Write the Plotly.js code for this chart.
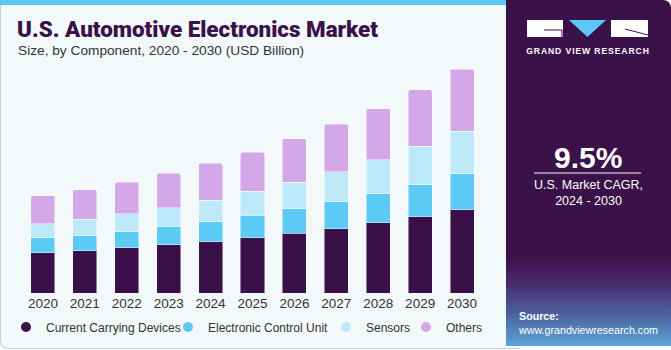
<!DOCTYPE html>
<html>
<head>
<meta charset="utf-8">
<script src="https://cdn.plot.ly/plotly-3.0.1.min.js"></script>
<style>
  html, body { margin: 0; padding: 0; background: #ffffff; }
  #wrap { position: relative; width: 671px; height: 350px; overflow: hidden; }
  #card { position: absolute; left: 0; top: 0; width: 520px; height: 349px; background: #f3f8fb;
          border-left: 1px solid #c9cdd0; border-bottom: 1px solid #c9cdd0; border-bottom-left-radius: 8px; box-sizing: border-box; }
  #stripe { position: absolute; left: 0; top: 0; width: 520px; height: 5px; background: #5bc8f2; }
  #panel { position: absolute; left: 506px; top: 0; width: 165px; height: 346px; border-top-right-radius: 8px;
           background: linear-gradient(to bottom, #3a1149 0%, #3a1149 74%, #4b2a6e 82%, #4c5c98 90%, #5aa6d8 100%); }
  #logo { position: absolute; left: 526px; top: 19px; }
  #plot { position: absolute; left: 0; top: 0; width: 671px; height: 350px; }
</style>
</head>
<body>
<div id="wrap">
  <div id="card"></div>
  <div id="stripe"></div>
  <div id="panel"></div>
  <svg id="logo" width="124" height="40" viewBox="0 0 124 40">
    <rect x="1" y="1" width="36" height="17" fill="#ffffff"/>
    <polyline points="18,11 36,11 36,18" fill="none" stroke="#3a1149" stroke-width="1"/>
    <polygon points="43,1 80,1 61.5,18" fill="#5bc8f5"/>
    <rect x="85" y="1" width="37" height="17" fill="#ffffff"/>
    <line x1="99" y1="10" x2="122" y2="16" stroke="#3a1149" stroke-width="1"/>
    <text x="62" y="35" text-anchor="middle" fill="#ffffff" font-family="Liberation Sans, Arial, sans-serif" font-weight="bold" font-size="8.6" letter-spacing="0.9">GRAND VIEW RESEARCH</text>
  </svg>
  <div id="plot"></div>
</div>
<script>
const years = ['2020','2021','2022','2023','2024','2025','2026','2027','2028','2029','2030'];
const currentCarryingDevices = [16.5, 17.3, 18.5, 19.7, 20.9, 22.6, 24.4, 26.3, 28.7, 31.2, 33.9];
const electronicControlUnit = [6.0, 6.1, 6.5, 7.3, 8.2, 9.1, 10.0, 11.0, 11.8, 12.9, 14.8];
const sensors = [5.8, 6.7, 7.3, 7.8, 8.7, 9.8, 10.8, 12.1, 13.9, 15.8, 17.4];
const others = [11.4, 12.1, 12.9, 14.0, 15.1, 15.9, 17.8, 19.5, 20.8, 23.0, 25.2];
const seriesNames = ['Current Carrying Devices', 'Electronic Control Unit', 'Sensors', 'Others'];
const seriesColors = ['#3a1049', '#5bcbf5', '#bde9f8', '#d4a7e9'];
const highlightYear = '2022';
const highlightLabel = '$45.2B';
const cagrValue = '9.5%';
const cagrText = 'U.S. Market CAGR,<br>2024 - 2030';

const W = 671, H = 350;
const seriesValues = [currentCarryingDevices, electronicControlUnit, sensors, others];
const legendIds = ['legend', 'legend2', 'legend3', 'legend4'];
const legendLeft = [6, 168, 326, 406];

const barTraces = seriesValues.map((vals, i) => ({
  type: 'bar',
  name: seriesNames[i],
  x: years,
  y: vals,
  showlegend: false,
  marker: { color: seriesColors[i], line: { color: 'rgba(255,255,255,0.45)', width: 1 }, cornerradius: 2 },
  hoverinfo: 'skip'
}));
const legendTraces = seriesNames.map((n, i) => ({
  type: 'scatter', mode: 'markers', name: n, x: [null], y: [null],
  legend: legendIds[i], showlegend: true,
  marker: { color: seriesColors[i], size: 10, symbol: 'circle' }, hoverinfo: 'skip'
}));

const hi = years.indexOf(highlightYear);
const hiTotal = seriesValues.reduce((s, v) => s + v[hi], 0);

const layout = {
  width: W, height: H,
  paper_bgcolor: 'rgba(0,0,0,0)',
  plot_bgcolor: 'rgba(0,0,0,0)',
  margin: { l: 22, r: 188, t: 60, b: 57 },
  barmode: 'stack',
  bargap: 0.427,
  font: { family: 'Liberation Sans, Arial, sans-serif', color: '#333333' },
  title: {
    text: 'U.S. Automotive Electronics Market',
    xref: 'container', yref: 'container', x: 17 / W, y: 1 - 21 / H,
    xanchor: 'left', yanchor: 'top',
    font: { family: 'Roboto, Liberation Sans, sans-serif', size: 22.4, weight: 900, color: '#3a1149' }
  },
  xaxis: {
    type: 'category', range: [-0.5, 10.5], showgrid: false, zeroline: false, showline: false,
    ticks: '', tickfont: { size: 13.5, color: '#333333' }, fixedrange: true
  },
  yaxis: {
    range: [0, 95.1], visible: false, showgrid: false, zeroline: false, fixedrange: true
  },
  annotations: [
    { x: highlightYear, y: hiTotal, xref: 'x', yref: 'y', text: highlightLabel, showarrow: false,
      yanchor: 'bottom', yshift: 6, font: { size: 13.5, color: '#333333' } },
    { xref: 'paper', yref: 'paper', x: -6 / 461, y: 1 + 9 / 233, xanchor: 'left', yanchor: 'middle',
      text: 'Size, by Component, 2020 - 2030 (USD Billion)', showarrow: false,
      font: { size: 13.7, color: '#333333' } },
    { xref: 'paper', yref: 'paper', x: (588 - 22) / 461, y: (293 - 157) / 233, xanchor: 'center', yanchor: 'middle',
      text: '<b>' + cagrValue + '</b>', showarrow: false,
      font: { size: 30, color: '#ffffff', family: 'Liberation Sans, Arial, sans-serif' } },
    { xref: 'paper', yref: 'paper', x: (588 - 22) / 461, y: (293 - 193) / 233, xanchor: 'center', yanchor: 'middle',
      text: cagrText, showarrow: false,
      font: { size: 12.5, color: '#ffffff' } },
    { xref: 'paper', yref: 'paper', x: (516 - 22) / 461, y: (293 - 323) / 233, xanchor: 'left', yanchor: 'middle',
      align: 'left', text: '<b>Source:</b><br>www.grandviewresearch.com', showarrow: false,
      font: { size: 10.7, color: '#ffffff' } }
  ],
  shapes: [
    { type: 'line', xref: 'paper', yref: 'paper', x0: (534 - 22) / 461, x1: (641 - 22) / 461,
      y0: (293 - 173) / 233, y1: (293 - 173) / 233, line: { color: '#ffffff', width: 1 } }
  ]
};
legendIds.forEach((id, i) => {
  layout[id] = {
    orientation: 'h', xref: 'container', yref: 'container',
    x: legendLeft[i] / W, y: (H - 327) / H, xanchor: 'left', yanchor: 'middle',
    font: { size: 12, color: '#333333' }, bgcolor: 'rgba(0,0,0,0)', borderwidth: 0
  };
});

Plotly.newPlot('plot', barTraces.concat(legendTraces), layout, { displayModeBar: false, staticPlot: true });
</script>
</body>
</html>
